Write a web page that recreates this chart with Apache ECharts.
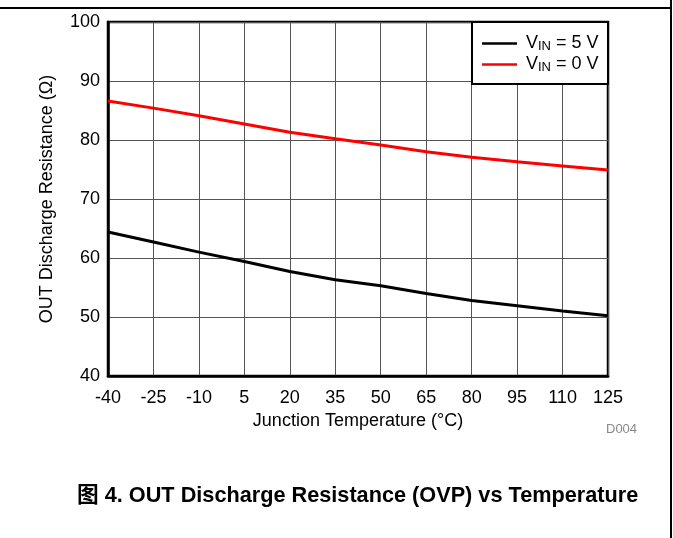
<!DOCTYPE html>
<html>
<head>
<meta charset="utf-8">
<script src="https://cdn.jsdelivr.net/npm/echarts@6/dist/echarts.min.js"></script>
<style>
  html, body { margin: 0; padding: 0; background: #fff; }
  #main { width: 673px; height: 538px; }
</style>
</head>
<body>
<div id="main"></div>
<script>
// junction temperature ticks (°C)
var temps = ['-40', '-25', '-10', '5', '20', '35', '50', '65', '80', '95', '110', '125'];
// OUT discharge resistance (Ω)
var vin5 = [64.4, 62.7, 61.0, 59.4, 57.7, 56.3, 55.3, 54.0, 52.8, 51.9, 51.0, 50.2];
var vin0 = [86.6, 85.4, 84.1, 82.7, 81.3, 80.2, 79.15, 78.0, 77.06, 76.3, 75.6, 74.9];
var seriesNames = ['VIN = 5 V', 'VIN = 0 V'];

var font = 'Liberation Sans, Arial, sans-serif';
var chart = echarts.init(document.getElementById('main'));

chart.setOption({
  animation: false,
  backgroundColor: '#fff',
  textStyle: { fontFamily: font },
  grid: {
    left: 108, top: 22, width: 500, height: 354,
    show: true, borderColor: '#000', borderWidth: 2.5
  },
  legend: {
    orient: 'vertical',
    left: 482, top: 33,
    padding: 0,
    itemGap: 1,
    itemWidth: 35, itemHeight: 2.5,
    icon: 'rect',
    z: 20,
    data: seriesNames,
    formatter: function (name) {
      return name === seriesNames[0] ? '{a|V}{b|IN}{a| = 5 V}' : '{a|V}{b|IN}{a| = 0 V}';
    },
    textStyle: {
      padding: [0, 0, 0, 4],
      rich: {
        a: { fontSize: 18, lineHeight: 19, color: '#000', fontFamily: font },
        b: { fontSize: 13, lineHeight: 19, color: '#000', fontFamily: font, verticalAlign: 'bottom', padding: [7, 0, 0, 0] }
      }
    }
  },
  xAxis: {
    type: 'category',
    data: temps,
    boundaryGap: false,
    name: 'Junction Temperature (°C)',
    nameLocation: 'middle',
    nameGap: 35,
    nameTextStyle: { fontSize: 18, color: '#000', fontFamily: font },
    axisLine: { show: true, lineStyle: { color: '#000', width: 2.5 } },
    axisTick: { show: false },
    axisLabel: { fontSize: 18, color: '#000', margin: 13, fontFamily: font },
    splitLine: { show: true, lineStyle: { color: '#555', width: 1 } }
  },
  yAxis: {
    type: 'value',
    min: 40, max: 100, interval: 10,
    name: 'OUT Discharge Resistance (Ω)',
    nameLocation: 'middle',
    nameGap: 52,
    nameTextStyle: { fontSize: 18, color: '#000', fontFamily: font },
    axisLine: { show: true, lineStyle: { color: '#000', width: 2.5 } },
    axisTick: { show: false },
    axisLabel: { fontSize: 18, color: '#000', margin: 8, fontFamily: font },
    splitLine: { show: true, lineStyle: { color: '#555', width: 1 } }
  },
  graphic: [
    // legend frame
    { type: 'rect', z: 10, shape: { x: 472, y: 22, width: 136, height: 62 },
      style: { fill: '#fff', stroke: '#000', lineWidth: 2 } },
    // page frame
    { type: 'line', z: 10, shape: { x1: 0, y1: 8, x2: 671, y2: 8 }, style: { stroke: '#000', lineWidth: 2 } },
    { type: 'line', z: 10, shape: { x1: 671, y1: 0, x2: 671, y2: 538 }, style: { stroke: '#000', lineWidth: 2 } },
    { type: 'text', left: 606, top: 423,
      style: { text: 'D004', fill: '#888', fontSize: 13, fontFamily: font } },
    { type: 'text', left: 77, top: 485,
      style: { text: '图 4. OUT Discharge Resistance (OVP) vs Temperature', fill: '#000',
        fontSize: 21.7, fontWeight: 'bold', fontFamily: 'Liberation Sans, Noto Sans CJK SC, sans-serif' } }
  ],
  series: [
    { name: seriesNames[0], type: 'line', data: vin5, showSymbol: false, z: 5,
      lineStyle: { color: '#000', width: 3 }, itemStyle: { color: '#000' } },
    { name: seriesNames[1], type: 'line', data: vin0, showSymbol: false, z: 5,
      lineStyle: { color: '#ff0000', width: 3 }, itemStyle: { color: '#ff0000' } }
  ]
});
</script>
</body>
</html>
